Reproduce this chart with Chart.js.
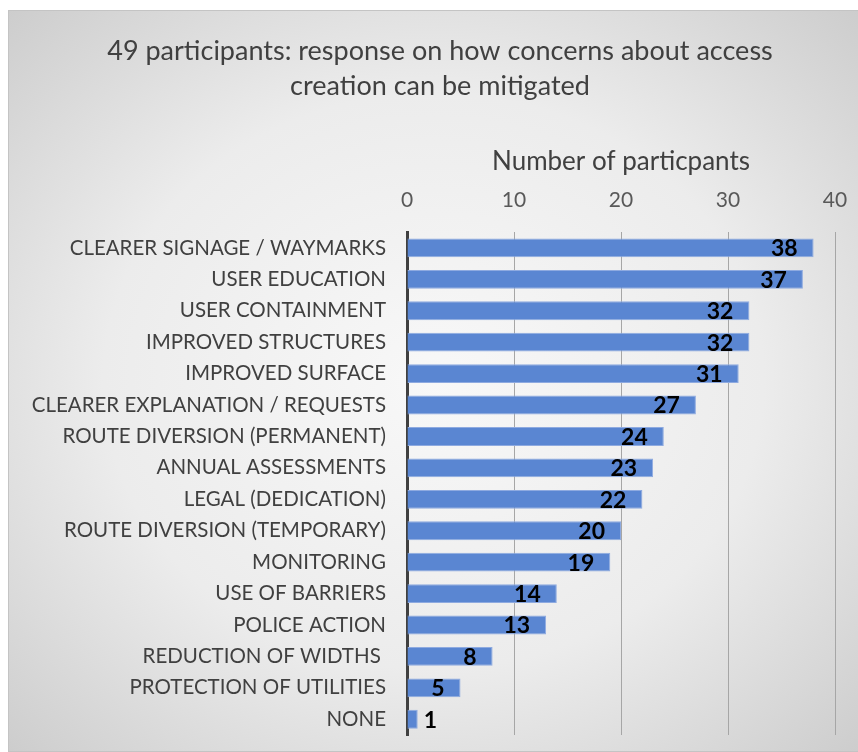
<!DOCTYPE html>
<html>
<head>
<meta charset="utf-8">
<script src="https://cdn.jsdelivr.net/npm/chart.js@4"></script>
<style>
  html, body { margin: 0; padding: 0; background: #fff; overflow: hidden; }
  #frame {
    position: absolute; left: 8px; top: 10px; width: 849px; height: 740px;
    border: 1px solid #c4c4c4; border-right: none;
    background: radial-gradient(ellipse farthest-corner at 50% 50%, #f8f8f8 0%, #ececec 55%, #cdcdcd 100%);
  }
  #frame canvas { display: block; }
</style>
</head>
<body>
<div id="frame"><canvas id="mitigationChart" width="849" height="740"></canvas></div>
<script>
const categories = [
  "CLEARER SIGNAGE / WAYMARKS",
  "USER EDUCATION",
  "USER CONTAINMENT",
  "IMPROVED STRUCTURES",
  "IMPROVED SURFACE",
  "CLEARER EXPLANATION / REQUESTS",
  "ROUTE DIVERSION (PERMANENT)",
  "ANNUAL ASSESSMENTS",
  "LEGAL (DEDICATION)",
  "ROUTE DIVERSION (TEMPORARY)",
  "MONITORING",
  "USE OF BARRIERS",
  "POLICE ACTION",
  "REDUCTION OF WIDTHS ",
  "PROTECTION OF UTILITIES",
  "NONE"
];
const participants = [38, 37, 32, 32, 31, 27, 24, 23, 22, 20, 19, 14, 13, 8, 5, 1];
const xTicks = [0, 10, 20, 30, 40];

const FONT = "Lato, 'Noto Sans', sans-serif";

// draws the bold value at the inside end of each bar (outside when the bar is too short)
const valueLabels = {
  id: "valueLabels",
  afterDatasetsDraw(chart) {
    const ctx = chart.ctx;
    const meta = chart.getDatasetMeta(0);
    ctx.save();
    ctx.font = "bold 23px " + FONT;
    ctx.fillStyle = "#000";
    ctx.textBaseline = "middle";
    meta.data.forEach((bar, i) => {
      const txt = String(participants[i]);
      const w = ctx.measureText(txt).width;
      if (bar.x - bar.base > w + 20) {
        ctx.textAlign = "right";
        ctx.fillText(txt, bar.x - 16, bar.y + 1);
      } else {
        ctx.textAlign = "left";
        ctx.fillText(txt, bar.x + 6, bar.y + 1);
      }
    });
    ctx.restore();
  }
};

// the title in the original sits a little right of the canvas centre
const titleShift = {
  id: "titleShift",
  afterLayout(chart) {
    const t = chart.titleBlock;
    if (t) {
      t.left += 11;
      t.right += 11;
    }
  }
};

const canvas = document.getElementById("mitigationChart");
const ctx = canvas.getContext("2d");

new Chart(ctx, {
  type: "bar",
  data: {
    labels: categories,
    datasets: [
      {
        label: "Number of particpants",
        data: participants,
        backgroundColor: "#5a86d2",
        borderColor: "#8eaae0",
        borderWidth: 1,
        barPercentage: 0.6,
        categoryPercentage: 1.0
      }
    ]
  },
  options: {
    indexAxis: "y",
    responsive: false,
    animation: false,
    layout: { padding: { left: 14, right: 23, top: 0, bottom: 16 } },
    plugins: {
      legend: { display: false },
      tooltip: { enabled: false },
      title: {
        display: true,
        text: [
          "49 participants: response on how concerns about access",
          "creation can be mitigated"
        ],
        color: "#404040",
        font: { family: FONT, size: 27, weight: "normal", lineHeight: 1.3 },
        padding: { top: 23, bottom: 38 }
      }
    },
    scales: {
      x: {
        position: "top",
        min: 0,
        max: 40,
        afterBuildTicks(scale) {
          scale.ticks = xTicks.map(v => ({ value: v }));
        },
        afterFit(scale) {
          scale.height = 90;
          scale.paddingLeft = 0;
          scale.paddingRight = 0;
        },
        ticks: {
          color: "#595959",
          font: { family: FONT, size: 21 },
          padding: 19
        },
        grid: { color: "#a6a6a6", lineWidth: 1, drawTicks: false },
        border: { display: false },
        title: {
          display: true,
          text: "Number of particpants",
          color: "#404040",
          font: { family: FONT, size: 26 },
          padding: { top: 4, bottom: 0 }
        }
      },
      y: {
        afterFit(scale) {
          scale.width = 384;
          scale.paddingTop = 0;
          scale.paddingBottom = 0;
        },
        ticks: {
          color: "#404040",
          font: { family: FONT, size: 20.5 },
          padding: 21
        },
        grid: { display: false, drawTicks: false },
        border: { display: true, color: "#404040", width: 3 }
      }
    }
  },
  plugins: [valueLabels, titleShift]
});
</script>
</body>
</html>
